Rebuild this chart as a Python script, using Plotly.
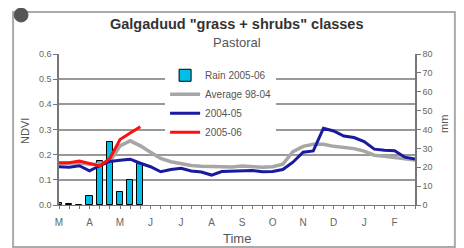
import plotly.graph_objects as go

# ---- data ----
dekads = list(range(36))
month_labels = ["M", "A", "M", "J", "J", "A", "S", "O", "N", "D", "J", "F"]

rain_dekads = list(range(9))
rain_2005_06 = [0.8, 0.5, 0.0, 5.0, 23.5, 33.5, 6.7, 13.2, 21.5]

ndvi_avg_98_04 = [0.165, 0.165, 0.168, 0.162, 0.163, 0.172, 0.235, 0.255, 0.235, 0.21,
                  0.185, 0.172, 0.165, 0.157, 0.154, 0.153, 0.153, 0.151, 0.155, 0.152,
                  0.150, 0.152, 0.162, 0.212, 0.233, 0.241, 0.241, 0.233, 0.228, 0.224,
                  0.214, 0.198, 0.194, 0.190, 0.183, 0.179]

ndvi_2004_05 = [0.152, 0.150, 0.156, 0.136, 0.156, 0.173, 0.178, 0.182, 0.166, 0.152,
                0.132, 0.141, 0.146, 0.135, 0.131, 0.119, 0.133, 0.135, 0.136, 0.137,
                0.132, 0.133, 0.141, 0.170, 0.210, 0.215, 0.305, 0.294, 0.274, 0.268,
                0.252, 0.222, 0.218, 0.216, 0.190, 0.183]

ndvi_2005_06 = [0.168, 0.168, 0.175, 0.166, 0.155, 0.185, 0.260, 0.286, 0.311]

ticktext = [month_labels[d // 3] if d % 3 == 0 else "" for d in dekads]

FONT = "Liberation Sans, Arial, sans-serif"

fig = go.Figure()

fig.add_trace(go.Bar(
    x=rain_dekads, y=rain_2005_06, name="Rain 2005-06", width=0.6,
    marker=dict(color="#00BFEA", line=dict(color="#000000", width=1)),
    yaxis="y"))
fig.add_trace(go.Scatter(
    x=dekads, y=ndvi_avg_98_04, name="Average 98-04", mode="lines",
    line=dict(color="#a6a6a6", width=3.5), yaxis="y2"))
fig.add_trace(go.Scatter(
    x=dekads, y=ndvi_2004_05, name="2004-05", mode="lines",
    line=dict(color="#1a1a9e", width=3), yaxis="y2"))
fig.add_trace(go.Scatter(
    x=rain_dekads, y=ndvi_2005_06, name="2005-06", mode="lines",
    line=dict(color="#ff1010", width=3), yaxis="y2"))

axis_gray = "#777777"


def label(text, x, y, size, color="#555555", angle=0):
    return dict(text=text, x=x, y=y, xref="paper", yref="paper", showarrow=False,
                xanchor="center", yanchor="middle", textangle=angle,
                font=dict(size=size, color=color))


fig.update_layout(
    # page body has an 8px default margin, so the figure is 8px smaller
    width=456, height=240,
    margin=dict(l=51, r=49, t=46, b=43),
    paper_bgcolor="white", plot_bgcolor="white",
    font=dict(family=FONT, color="#555555"),
    showlegend=True,
    legend=dict(x=0.298, y=0.955, xanchor="left", yanchor="top",
                bgcolor="white", borderwidth=0, font=dict(size=10, color="#555555"),
                tracegroupgap=0, itemwidth=30),
    bargap=0,
    xaxis=dict(range=[0, 35], tickmode="array", tickvals=dekads, ticktext=ticktext,
               showline=True, linecolor=axis_gray, linewidth=1,
               ticks="outside", ticklen=3, tickcolor=axis_gray, ticklabelstandoff=5,
               tickfont=dict(size=10, color="#666666"), showgrid=False, zeroline=False),
    yaxis=dict(range=[0, 80], dtick=10, side="right", showgrid=False, zeroline=False,
               showline=True, linecolor=axis_gray, linewidth=1.5,
               ticks="outside", ticklen=4, tickcolor=axis_gray,
               tickfont=dict(size=9, color="#666666")),
    yaxis2=dict(range=[0, 0.6], dtick=0.1, tickformat=".1f", overlaying="y", side="left",
                showgrid=True, gridcolor="#999999", gridwidth=1.5, zeroline=False,
                showline=True, linecolor=axis_gray, linewidth=1.5,
                ticks="outside", ticklen=4, tickcolor=axis_gray,
                tickfont=dict(size=9, color="#666666")),
    annotations=[
        label("<b>Galgaduud \"grass + shrubs\" classes</b>", 0.5, 1.199, 14.5, "#333333"),
        label("Pastoral", 0.5, 1.073, 13),
        label("Time", 0.5, -0.219, 13),
        label("NDVI", -0.0955, 0.49, 11, angle=-90),
        label("mm", 1.081, 0.536, 11, angle=-90),
    ],
    shapes=[
        dict(type="rect", xref="paper", yref="paper", x0=-0.129, x1=1.112,
             y0=-0.278, y1=1.278, line=dict(color="#aaaaaa", width=2)),
        dict(type="circle", xref="paper", yref="paper", x0=-0.126, x1=-0.087,
             y0=1.212, y1=1.305, fillcolor="#555555", line=dict(color="#555555", width=1)),
    ],
)

fig.write_html("out.html")
